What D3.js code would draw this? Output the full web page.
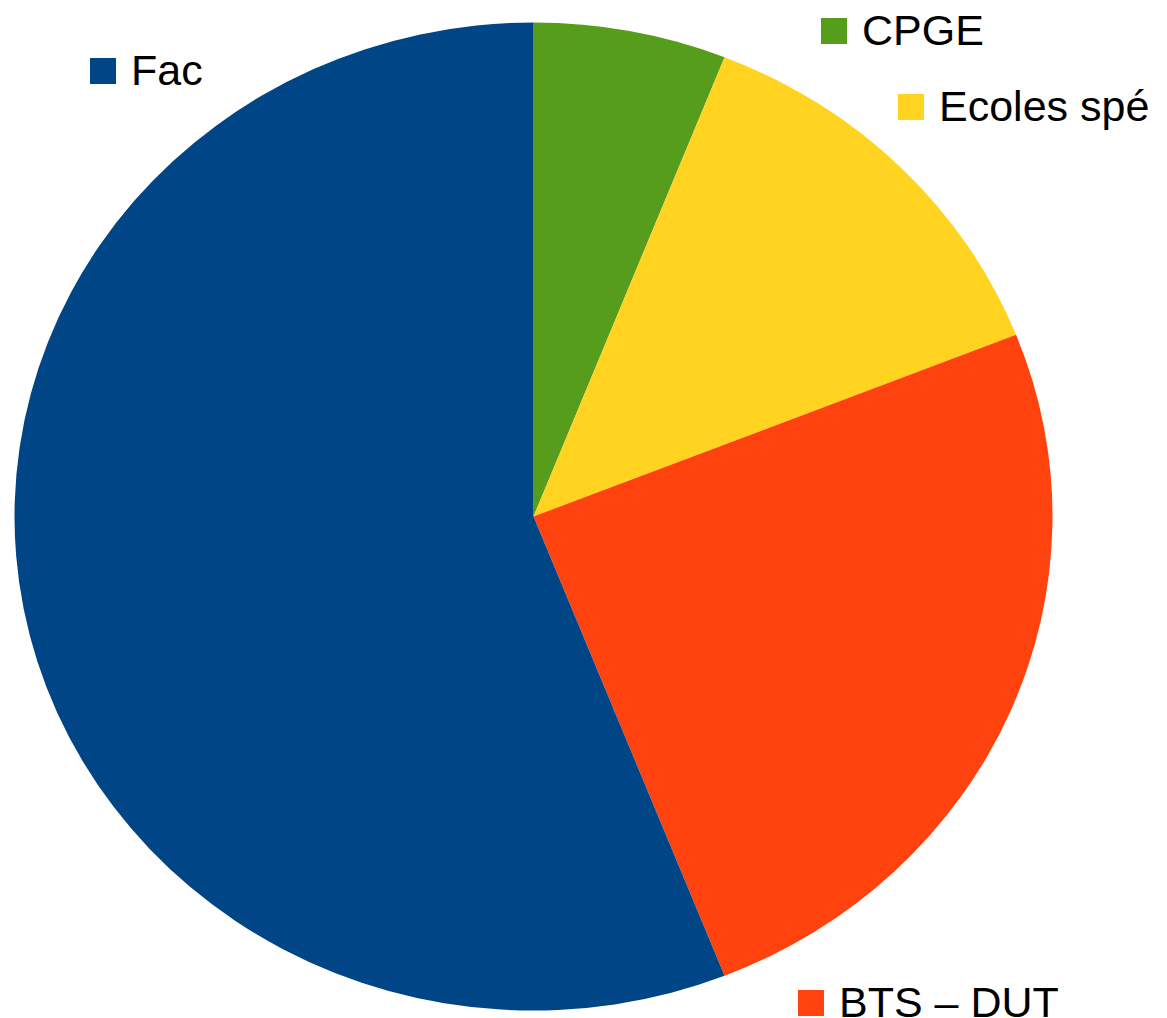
<!DOCTYPE html>
<html>
<head>
<meta charset="utf-8">
<script src="https://cdn.jsdelivr.net/npm/d3@7"></script>
<style>
  html, body { margin: 0; padding: 0; background: #fff; }
  svg { display: block; }
</style>
</head>
<body>
<svg id="chart" width="1167" height="1018"></svg>
<script>
// Data
const categories = ["CPGE", "Ecoles spé", "BTS – DUT", "Fac"];
const values = [6, 13, 25, 56];
const colors = ["#579d1c", "#ffd320", "#ff420e", "#004586"];

// Layout
const W = 1167, H = 1018;
const cx = 533.5, cy = 516.5, rx = 519, ry = 494;
// legend anchor (top-left of swatch) for each category
const legendPos = {
  "CPGE": [821, 18],
  "Ecoles spé": [898, 94],
  "BTS – DUT": [798, 990],
  "Fac": [90, 58]
};
const sw = 26, fontSize = 43;

const svg = d3.select("#chart");
const data = categories.map((c, i) => ({ name: c, value: values[i], color: colors[i] }));

const pie = d3.pie().value(d => d.value).sort(null).startAngle(0).endAngle(2 * Math.PI);
const arc = d3.arc().innerRadius(0).outerRadius(ry);

const g = svg.append("g")
  .attr("transform", `translate(${cx},${cy}) scale(${rx / ry},1)`);

g.selectAll("path")
  .data(pie(data))
  .join("path")
  .attr("d", arc)
  .attr("fill", d => d.data.color);

const leg = svg.append("g").selectAll("g")
  .data(data)
  .join("g")
  .attr("transform", d => `translate(${legendPos[d.name][0]},${legendPos[d.name][1]})`);

leg.append("rect")
  .attr("width", sw).attr("height", sw)
  .attr("fill", d => d.color);

leg.append("text")
  .attr("x", sw + 15)
  .attr("y", sw + 1)
  .attr("font-family", "'Liberation Sans', Arial, sans-serif")
  .attr("font-size", fontSize)
  .attr("fill", "#000")
  .text(d => d.name);
</script>
</body>
</html>
